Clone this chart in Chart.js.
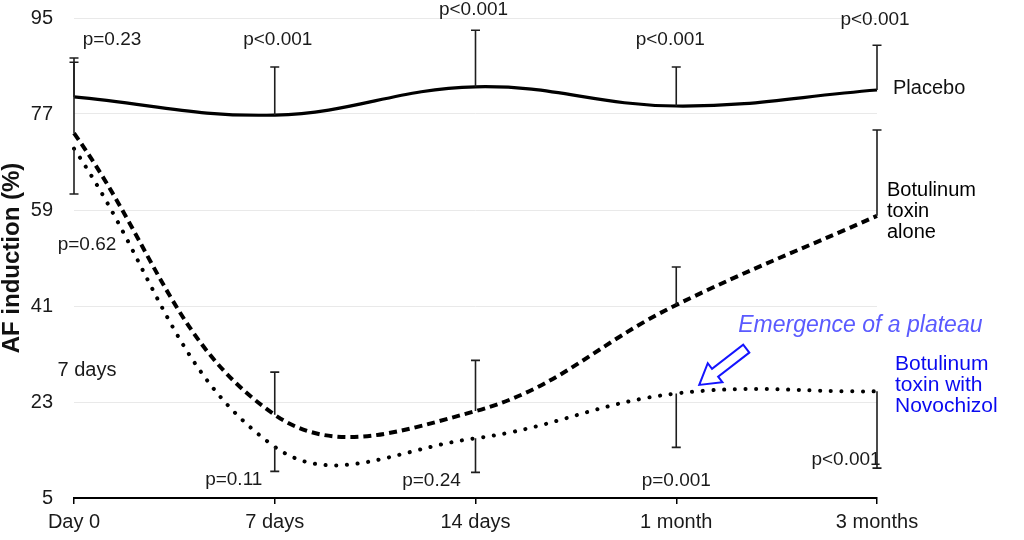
<!DOCTYPE html>
<html>
<head>
<meta charset="utf-8">
<script src="https://cdn.jsdelivr.net/npm/chart.js@4.4.1/dist/chart.umd.min.js"></script>
<style>
  html, body { margin: 0; padding: 0; background: #ffffff; }
  #wrap { width: 1024px; height: 540px; position: relative; }
</style>
</head>
<body>
<div id="wrap"><canvas id="c"></canvas></div>
<script>
// ---- data ----
const categories = ['Day 0', '7 days', '14 days', '1 month', '3 months'];
const placebo = [80.2, 76.8, 82.1, 78.5, 81.5];
const toxinAlone = [73.4, 20.6, 21.3, 41.2, 57.9];
const toxinNovochizol = [70.5, 14.6, 16.2, 24.6, 25.0];
const placeboUpper = [87.5, 85.8, 92.7, 85.8, 89.9];
const toxinAloneUpper = [86.7, 28.6, 30.8, 48.3, 74.0];
const novochizolLower = [62.0, 10.0, 9.8, 14.5, 10.6];
const yTicks = [5, 23, 41, 59, 77, 95];
const topPValues = ['p=0.23', 'p<0.001', 'p<0.001', 'p<0.001', 'p<0.001'];
const bottomPValues = ['p=0.62', 'p=0.11', 'p=0.24', 'p=0.001', 'p<0.001'];

const FONT = "'Liberation Sans', Arial, Helvetica, sans-serif";
const TEXT = '#1a1a1a';

const errorBars = {
  id: 'errorBars',
  afterDatasetsDraw(chart) {
    const { ctx, scales: { x, y } } = chart;
    ctx.save();
    ctx.strokeStyle = '#1e1e1e';
    ctx.lineWidth = 1.6;
    const draw = (vals, ends) => {
      vals.forEach((v, i) => {
        const px = x.getPixelForValue(i);
        const y0 = y.getPixelForValue(v);
        const y1 = y.getPixelForValue(ends[i]);
        ctx.beginPath();
        ctx.moveTo(px, y0); ctx.lineTo(px, y1);
        ctx.moveTo(px - 4.5, y1); ctx.lineTo(px + 4.5, y1);
        ctx.stroke();
      });
    };
    draw(placebo, placeboUpper);
    draw(toxinAlone, toxinAloneUpper);
    draw(toxinNovochizol, novochizolLower);
    ctx.restore();
  }
};

const annotations = {
  id: 'annotations',
  afterDraw(chart) {
    const { ctx, scales: { x, y } } = chart;
    const X = i => x.getPixelForValue(i);
    const Y = v => y.getPixelForValue(v);
    ctx.save();
    ctx.textBaseline = 'middle';
    const txt = (t, px, py, align, font, color) => {
      ctx.font = font; ctx.fillStyle = color; ctx.textAlign = align;
      ctx.fillText(t, px, py);
    };
    const pf = '19px ' + FONT;
    // top p-values (placebo vs treatment)
    const topY = [90.9, 90.9, 96.5, 90.9, 94.6];
    const topDx = [38, 3, -2, -6, -2];
    topPValues.forEach((t, i) => txt(t, X(i) + topDx[i], Y(topY[i]), 'center', pf, TEXT));
    // bottom p-values
    txt(bottomPValues[0], X(0) + 13, Y(52.4), 'center', pf, TEXT);
    txt('7 days', X(0) + 13, Y(29.0), 'center', '20px ' + FONT, TEXT);
    txt(bottomPValues[1], X(1) - 41, Y(8.5), 'center', pf, TEXT);
    txt(bottomPValues[2], X(2) - 44, Y(8.3), 'center', pf, TEXT);
    txt(bottomPValues[3], X(3), Y(8.3), 'center', pf, TEXT);
    txt(bottomPValues[4], X(4) - 31, Y(12.1), 'center', pf, TEXT);
    // series labels
    const lf = '20px ' + FONT;
    txt('Placebo', X(4) + 16, Y(81.7), 'left', lf, '#111');
    ['Botulinum', 'toxin', 'alone'].forEach((t, k) => txt(t, X(4) + 10, Y(62.7) + k * 21, 'left', lf, '#000'));
    const bf = '21px ' + FONT;
    ['Botulinum', 'toxin with', 'Novochizol'].forEach((t, k) => txt(t, X(4) + 18, Y(30.0) + k * 21, 'left', bf, '#0a0af0'));
    // plateau note
    txt('Emergence of a plateau', X(3) + 62, Y(37.4), 'left', 'italic 23px ' + FONT, '#5a5aff');
    // hollow arrow pointing to the plateau start
    const tipX = X(3) + 23, tipY = Y(26.2);
    const tailX = X(3) + 70, tailY = Y(33.0);
    const ang = Math.atan2(tipY - tailY, tipX - tailX);
    const len = Math.hypot(tipX - tailX, tipY - tailY);
    const hl = 20, hw = 12, sw = 5;
    ctx.translate(tailX, tailY);
    ctx.rotate(ang);
    ctx.beginPath();
    ctx.moveTo(0, -sw);
    ctx.lineTo(len - hl, -sw);
    ctx.lineTo(len - hl, -hw);
    ctx.lineTo(len, 0);
    ctx.lineTo(len - hl, hw);
    ctx.lineTo(len - hl, sw);
    ctx.lineTo(0, sw);
    ctx.closePath();
    ctx.fillStyle = '#ffffff';
    ctx.fill();
    ctx.strokeStyle = '#1414ff';
    ctx.lineWidth = 2;
    ctx.lineJoin = 'miter';
    ctx.stroke();
    ctx.restore();
  }
};

new Chart(document.getElementById('c'), {
  type: 'line',
  data: {
    labels: categories,
    datasets: [
      { label: 'Placebo', data: placebo, borderColor: '#000', borderWidth: 3.2, tension: 0.4, pointRadius: 0, fill: false },
      { label: 'Botulinum toxin alone', data: toxinAlone, borderColor: '#000', borderWidth: 4, borderDash: [8, 5], tension: 0.4, pointRadius: 0, fill: false },
      { label: 'Botulinum toxin with Novochizol', data: toxinNovochizol, borderColor: '#000', borderWidth: 4, borderDash: [0.1, 10.6], borderCapStyle: 'round', tension: 0.4, pointRadius: 0, fill: false }
    ]
  },
  options: {
    responsive: true,
    maintainAspectRatio: false,
    animation: false,
    layout: { padding: { left: 0, right: 147, top: 18, bottom: 0 } },
    plugins: { legend: { display: false }, tooltip: { enabled: false } },
    scales: {
      x: {
        type: 'category',
        offset: false,
        border: { display: true, color: '#000', width: 2 },
        grid: { display: true, drawOnChartArea: false, drawTicks: true, tickLength: 6, color: '#000', lineWidth: 1.5 },
        ticks: { font: { family: FONT, size: 20 }, color: TEXT, padding: 6, maxRotation: 0 },
        afterFit(s) { s.height = 42; }
      },
      y: {
        min: 5, max: 95,
        border: { display: false },
        grid: { color: '#e9e9e9', lineWidth: 1, drawTicks: false },
        afterBuildTicks(s) { s.ticks = yTicks.map(v => ({ value: v })); },
        ticks: { font: { family: FONT, size: 20 }, color: TEXT, padding: 21 },
        title: { display: true, text: 'AF induction (%)', font: { family: FONT, size: 24, weight: 'bold', lineHeight: 1 }, color: '#111', padding: 0 },
        afterFit(s) { s.width = 74; s.paddingTop = 0; s.paddingBottom = 0; }
      }
    }
  },
  plugins: [errorBars, annotations]
});
</script>
</body>
</html>
